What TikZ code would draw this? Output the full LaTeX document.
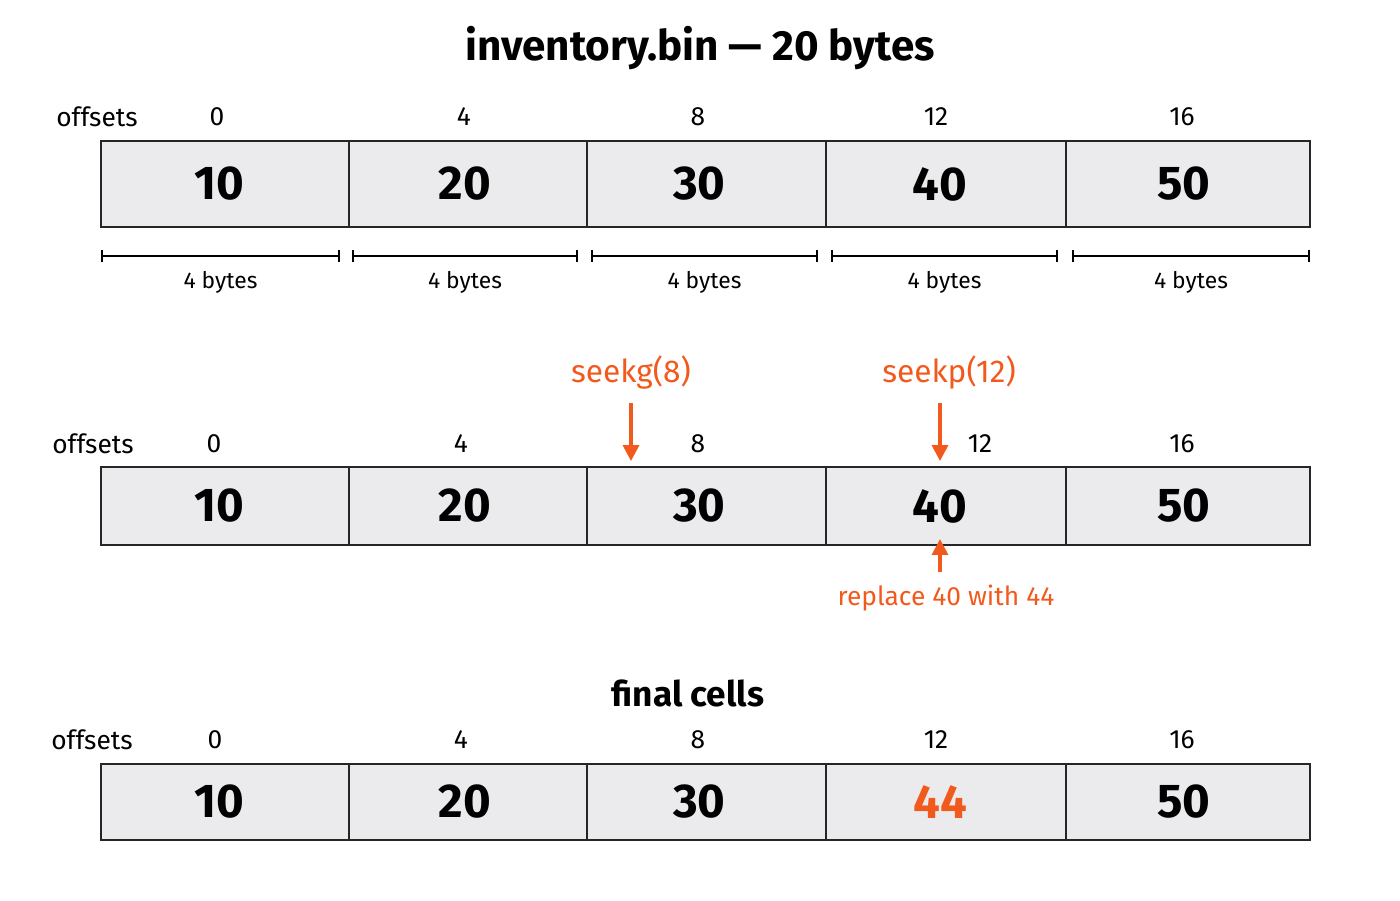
\documentclass[tikz,border=0pt]{standalone}
\usepackage{fontspec}
\setmainfont{Fira Sans}
\usetikzlibrary{arrows.meta, positioning}
\definecolor{hot}{HTML}{F25A1D}
\definecolor{cellgray}{HTML}{EBEBEE}
\tikzset{
  cell/.style={draw=black!85, line width=1.3pt, fill=cellgray},
  val/.style={font=\fontsize{27}{30}\selectfont\bfseries},
  off/.style={font=\fontsize{15}{17}\selectfont},
  hot/.style={text=hot, font=\fontsize{18}{20}\selectfont},
  ptr/.style={draw=hot, line width=2pt, -{Triangle[length=9pt,width=9pt]}}
}
\begin{document}
\begin{tikzpicture}[x=0.02cm, y=-0.02cm]
\useasboundingbox (0,0) rectangle (1400,900);

\node [font=\fontsize{24}{26}\selectfont\bfseries] (title) at (700,48) {inventory.bin — 20 bytes};

% three rows of cells
\foreach \row/\top/\bot/\oy in {a/141/227/117, b/467/545/444, c/764/840/740}
{
  \foreach \i/\xl/\xr/\v in {1/101/349/10, 2/349/587/20, 3/587/826/30, 4/826/1066/40, 5/1066/1310/50}
  {
    \draw [cell] (\xl,\top) rectangle (\xr,\bot);
    \coordinate (\row\i) at ({(\xl+\xr)/2},{(\top+\bot)/2});
  }
}
\foreach \row in {a,b}
  \foreach \i/\v/\dx in {1/10/-6,2/20/-3,3/30/-7,4/40/-6,5/50/-4}
    \node [val] (\row v\i) at ([xshift=\dx*0.02cm]\row\i) {\v};
\foreach \i/\v/\dx in {1/10/-6,2/20/-3,3/30/-7,5/50/-4}
  \node [val] (cv\i) at ([xshift=\dx*0.02cm]c\i) {\v};
\node [val, text=hot] (cv4) at ([xshift=-6*0.02cm]c4) {44};

% offsets
\node [off] (offa) at (97,117) {offsets};
\node [off] (offb) at (93,444) {offsets};
\node [off] (offc) at (92,740) {offsets};
\foreach \x/\n in {217/0,464/4,698/8,936/12,1182/16}
  \node [off] at (\x,117) {\n};
\foreach \x/\n in {214/0,461/4,698/8,980/12,1182/16}
  \node [off] at (\x,444) {\n};
\foreach \x/\n in {215/0,461/4,698/8,936/12,1182/16}
  \node [off] at (\x,740) {\n};

% byte widths
\foreach \xl/\xr in {101/340, 352/578, 591/818, 831/1058, 1072/1310}
{
  \draw [{|-|}, line width=1pt] (\xl,256) -- (\xr,256);
  \node [font=\fontsize{13}{15}\selectfont] at ({(\xl+\xr)/2},282) {4 bytes};
}

% stream pointers
\node [hot] (seekg) at (631,372) {seekg(8)};
\node [hot] (seekp) at (949,372) {seekp(12)};
\coordinate (g) at (631,461);
\coordinate (p) at (940,461);
\draw [ptr] (631,403) -- (g);
\draw [ptr] (940,403) -- (p);
\node [hot, font=\fontsize{15}{17}\selectfont] (repl) at (946,598) {replace 40 with 44};
\coordinate (w) at (940,539);
\draw [ptr] (940,572) -- (w);

\node [font=\fontsize{20}{22}\selectfont\bfseries] (final) at (688,693) {final cells};
\end{tikzpicture}
\end{document}
